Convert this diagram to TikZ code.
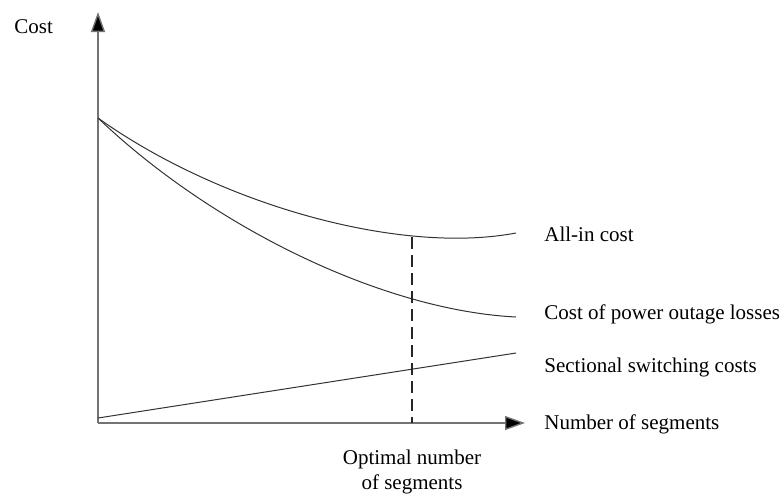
\documentclass[tikz,border=0pt]{standalone}
\usepackage{fontspec}
\setmainfont{Liberation Serif}
\usetikzlibrary{arrows.meta}

\begin{document}
\begin{tikzpicture}[x=0.5pt, y=-0.5pt,
   axis_style/.style={draw=black!55, line width=0.7pt, -{Triangle[length=10pt,width=7pt,fill=black]}},
   curve_style/.style={draw=black!80, line width=0.5pt},
   dash_style/.style={draw=black!85, line width=0.6pt, dash pattern=on 6pt off 3pt},
   text_style/.style={font=\fontsize{10.5}{12.5}\selectfont, inner sep=0pt}]

    \useasboundingbox (0,0) rectangle (783,495);

    \coordinate (o) at (98,423);
    \coordinate (ytip) at (98,12);
    \coordinate (xtip) at (525,423);
    \coordinate (start) at (98,118);
    \coordinate (allend) at (516,233);
    \coordinate (lossend) at (516,317);
    \coordinate (swstart) at (98,418);
    \coordinate (swend) at (516,353);
    \coordinate (opt) at (412,237);
    \coordinate (optbase) at (412,423);

    % axes
    \draw[axis_style] (o) -- (ytip);
    \draw[axis_style] (o) -- (xtip);

    % curves
    \draw[curve_style] (start) .. controls (220,205) and (400,255) .. (allend);
    \draw[curve_style] (start) .. controls (210,225) and (380,310) .. (lossend);
    \draw[curve_style] (swstart) -- (swend);
    \draw[dash_style] (opt) -- (optbase);

    % labels
    \node[text_style, anchor=west] (cost) at (14,27) {Cost};
    \node[text_style, anchor=west] (allin) at (544,234) {All-in cost};
    \node[text_style, anchor=west] (loss) at (544,314) {Cost of power outage losses};
    \node[text_style, anchor=west] (switch) at (544,367) {Sectional switching costs};
    \node[text_style, anchor=west] (segments) at (544,424) {Number of segments};
    \node[text_style, align=center] (optimal) at (412,472) {Optimal number\\of segments};
\end{tikzpicture}
\end{document}
